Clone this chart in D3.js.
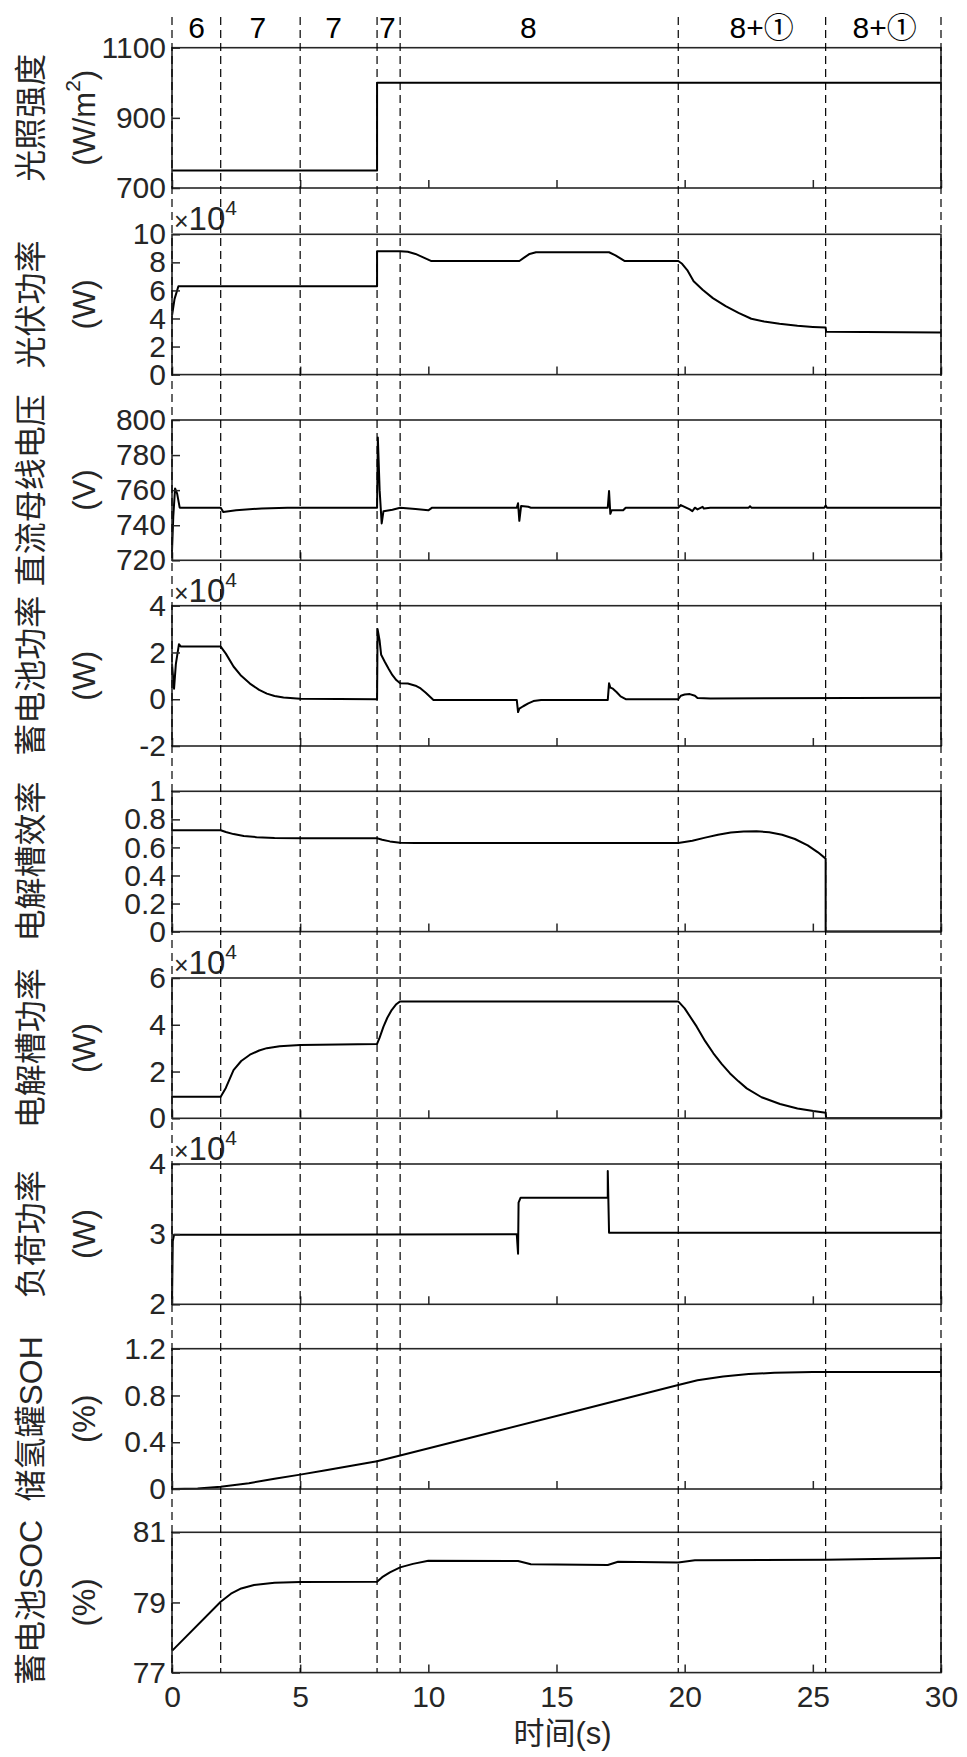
<!DOCTYPE html>
<html><head><meta charset="utf-8">
<script src="https://cdn.jsdelivr.net/npm/d3@7"></script>
<style>
body{margin:0;background:#fff}
text{fill:#262626}
</style>
</head><body>
<svg id="c" width="967" height="1757"></svg>
<script>
// ---------------- data ----------------
const xTicks = [0, 5, 10, 15, 20, 25, 30];
const phaseBounds = [0, 1.9, 5, 8, 8.9, 19.75, 25.5, 30];
const phaseLabels = ["6", "7", "7", "7", "8", "8+①", "8+①"];
const phaseLabelAt = [0.96, 3.35, 6.3, 8.4, 13.9, 23.0, 27.8];

const irradiance = [[0,750],[8,750],[8,1000],[30,1000]];
const pvPower = [[0,4.2],[0.1,5.4],[0.25,6.3],[8,6.3],[8,8.8],[8.9,8.8],[9.2,8.75],[9.5,8.6],[9.8,8.35],[10.1,8.1],
  [13.55,8.1],[13.75,8.35],[13.95,8.6],[14.2,8.72],[17.05,8.72],[17.3,8.5],[17.65,8.1],[19.75,8.1],[19.9,7.9],
  [20.1,7.45],[20.35,6.65],[20.7,6.05],[21.1,5.45],[21.6,4.88],[22.1,4.4],[22.6,3.98],[23.1,3.78],[23.7,3.62],
  [24.4,3.48],[25.0,3.4],[25.5,3.35],[25.52,3.05],[30,3.0]];
const busVoltage = [[0,725],[0.05,745],[0.12,761],[0.2,758],[0.3,750],[1.9,750],[2.0,747.5],[2.5,748.5],[3.5,749.6],
  [4.5,750],[8.0,750],[8.03,790],[8.1,760],[8.18,741],[8.25,748],[8.6,748.8],[8.9,750],[9.5,749.2],[10.0,748.5],
  [10.15,750],[13.45,750],[13.5,752.5],[13.55,742.5],[13.62,751],[13.9,750.5],[14.0,750],[17.0,750],[17.05,759.5],
  [17.1,746.5],[17.15,748.5],[17.6,748.5],[17.7,750],[19.75,750],[19.85,751.5],[20.2,749],[20.3,748],[20.4,750],
  [20.5,749],[20.7,750.5],[20.75,749.5],[21.0,750],[22.5,750],[22.55,750.8],[22.6,750],[25.45,750],[25.5,751.2],
  [25.55,750],[30,750]];
const batteryPower = [[0,1.5],[0.08,0.45],[0.15,1.5],[0.27,2.35],[0.35,2.25],[1.9,2.25],[2.1,1.95],[2.4,1.4],[2.7,1.0],
  [3.04,0.67],[3.4,0.4],[3.7,0.24],[4.0,0.14],[4.35,0.07],[5,0.02],[8.0,0.0],[8.02,3.0],[8.1,2.5],[8.16,1.9],[8.3,1.6],
  [8.45,1.3],[8.6,1.03],[8.75,0.82],[8.9,0.68],[9.2,0.67],[9.5,0.58],[9.7,0.46],[9.9,0.28],[10.2,-0.03],[13.45,-0.03],
  [13.5,-0.55],[13.55,-0.4],[13.7,-0.3],[13.9,-0.18],[14.1,-0.08],[14.4,-0.03],[17.0,-0.03],[17.05,0.68],[17.1,0.5],
  [17.2,0.45],[17.35,0.3],[17.5,0.12],[17.7,0.0],[19.75,0.0],[19.85,0.15],[20.0,0.2],[20.2,0.22],[20.4,0.15],
  [20.5,0.05],[21,0.03],[30,0.06]];
const electrolyzerEff = [[0,0.722],[1.9,0.722],[2.1,0.71],[2.4,0.695],[2.8,0.682],[3.3,0.673],[4,0.668],[5,0.666],
  [8,0.665],[8.2,0.655],[8.5,0.643],[8.9,0.634],[9.5,0.632],[19.75,0.632],[20.3,0.648],[20.8,0.67],[21.3,0.69],
  [21.8,0.706],[22.3,0.714],[22.8,0.716],[23.3,0.708],[23.8,0.69],[24.3,0.66],[24.8,0.615],[25.2,0.565],[25.5,0.52],
  [25.5,0.0],[30,0.0]];
const electrolyzerPower = [[0,0.92],[1.9,0.92],[2.1,1.3],[2.4,2.06],[2.7,2.45],[3.04,2.72],[3.4,2.9],[3.7,3.0],
  [4.2,3.08],[5,3.13],[8,3.18],[8.1,3.45],[8.25,3.92],[8.4,4.3],[8.57,4.63],[8.75,4.88],[8.9,5.0],[19.75,5.0],
  [20.0,4.7],[20.47,3.92],[20.8,3.3],[21.12,2.78],[21.45,2.32],[21.77,1.92],[22.1,1.58],[22.42,1.28],[23.0,0.9],
  [23.72,0.61],[24.4,0.42],[25.02,0.31],[25.5,0.24],[25.52,0.0],[30,0.0]];
const loadPower = [[0,2.0],[0.03,2.9],[0.08,2.99],[13.45,3.0],[13.5,2.72],[13.52,3.45],[13.6,3.52],[17.0,3.52],
  [17.0,3.9],[17.05,3.02],[30,3.02]];
const tankSOH = [[0,0],[1,0.005],[1.9,0.02],[3,0.05],[4,0.088],[5,0.123],[6,0.16],[7,0.198],[8,0.237],[8.9,0.286],
  [12.8,0.503],[16,0.68],[19.75,0.89],[20.5,0.93],[21.5,0.963],[22.5,0.983],[23.5,0.994],[25,1.0],[30,1.0]];
const batterySOC = [[0,77.62],[1.9,79.02],[2.3,79.25],[2.7,79.4],[3.2,79.5],[4,79.56],[5,79.58],[8,79.59],[8.2,79.72],
  [8.5,79.86],[8.9,80.0],[9.4,80.1],[10,80.19],[13.5,80.18],[14,80.09],[17.0,80.07],[17.4,80.16],[19.75,80.14],
  [20.4,80.2],[25.5,80.22],[30,80.27]];

const yDomains = [[700,1100],[0,10],[720,800],[-2,4],[0,1],[0,6],[2,4],[0,1.2],[77,81]];
const yTickSets = [[700,900,1100],[0,2,4,6,8,10],[720,740,760,780,800],[-2,0,2,4],[0,0.2,0.4,0.6,0.8,1],
  [0,2,4,6],[2,3,4],[0,0.4,0.8,1.2],[77,79,81]];
const yLabels = ["光照强度","光伏功率","直流母线电压","蓄电池功率","电解槽效率","电解槽功率","负荷功率","储氢罐SOH","蓄电池SOC"];
const yUnits = ["(W/m2)","(W)","(V)","(W)","","(W)","(W)","(%)","(%)"];
const yExponent = [null, 4, null, 4, null, 4, 4, null, null];
const series = [irradiance, pvPower, busVoltage, batteryPower, electrolyzerEff, electrolyzerPower, loadPower, tankSOH, batterySOC];

// ---------------- layout ----------------
const X0 = 172, X1 = 941;
const tops = [47.7, 234.3, 420, 605.7, 791.3, 978, 1164, 1348.7, 1532.3];
const PH = 140.3;
const AX = "#262626";
const LATIN = "'Liberation Sans', Arial, Helvetica, 'Noto Sans CJK SC', sans-serif";

const svg = d3.select("#c");
const x = d3.scaleLinear().domain([0, 30]).range([X0, X1]);

series.forEach((data, i) => {
  const top = tops[i], bot = top + PH;
  const y = d3.scaleLinear().domain(yDomains[i]).range([bot, top]);
  const g = svg.append("g");

  g.append("path").datum(data)
    .attr("d", d3.line().x(d => x(d[0])).y(d => y(d[1])))
    .attr("fill", "none").attr("stroke", "#000").attr("stroke-width", 2)
    .attr("stroke-linejoin", "round");

  const ya = g.append("g").attr("transform", `translate(${X0},0)`)
    .call(d3.axisLeft(y).tickValues(yTickSets[i]).tickSize(-8).tickPadding(6).tickFormat(d => String(d)));
  const xa = g.append("g").attr("transform", `translate(0,${bot})`)
    .call(d3.axisBottom(x).tickValues(xTicks).tickSize(-8).tickPadding(13)
      .tickFormat(i === series.length - 1 ? (d => String(d)) : (() => "")));
  [ya, xa].forEach(a => {
    a.select(".domain").remove();
    a.selectAll(".tick line").attr("stroke", AX).attr("stroke-width", 1.5);
    a.selectAll(".tick text").attr("fill", AX).style("font-family", LATIN).style("font-size", "30px");
  });
  xa.selectAll(".tick text").filter(function(){ return this.textContent === ""; }).remove();

  g.append("rect").attr("x", X0).attr("y", top).attr("width", X1 - X0).attr("height", PH)
    .attr("fill", "none").attr("stroke", AX).attr("stroke-width", 1.6);

  const mid = (top + bot) / 2;
  g.append("text").attr("transform", `translate(31,${mid}) rotate(-90)`)
    .attr("text-anchor", "middle").attr("dominant-baseline", "central")
    .style("font-family", LATIN).style("font-size", "32px").text(yLabels[i]);
  if (yUnits[i]) {
    const t = g.append("text").attr("transform", `translate(84,${mid}) rotate(-90)`)
      .attr("text-anchor", "middle").attr("dominant-baseline", "central")
      .style("font-family", LATIN).style("font-size", "31px");
    if (yUnits[i].endsWith("2)")) {
      t.append("tspan").text("(W/m");
      t.append("tspan").attr("dy", -12).style("font-size", "21px").text("2");
      t.append("tspan").attr("dy", 12).text(")");
    } else t.text(yUnits[i]);
  }

  if (yExponent[i] !== null) {
    const e = g.append("text").attr("x", X0 + 2).attr("y", top - 4)
      .style("font-family", LATIN).style("font-size", "33px");
    e.append("tspan").style("font-size", "25px").text("×");
    e.append("tspan").text("10");
    e.append("tspan").attr("dy", -15).style("font-size", "21px").text(String(yExponent[i]));
  }
});

svg.append("text").attr("x", (X0 + X1) / 2 + 6).attr("y", 1744)
  .attr("text-anchor", "middle").style("font-family", LATIN).style("font-size", "31px").text("时间(s)");

phaseLabels.forEach((l, k) => {
  svg.append("text").attr("x", x(phaseLabelAt[k])).attr("y", 37.5).attr("text-anchor", "middle")
    .style("font-family", LATIN).style("font-size", "30px").style("fill", "#000").text(l);
});

svg.append("g").selectAll("line").data(phaseBounds).join("line")
  .attr("x1", d => x(d)).attr("x2", d => x(d)).attr("y1", 17).attr("y2", tops[8] + PH)
  .attr("stroke", "#000").attr("stroke-width", 1.2).attr("stroke-dasharray", "8,5");
</script>
</body></html>
